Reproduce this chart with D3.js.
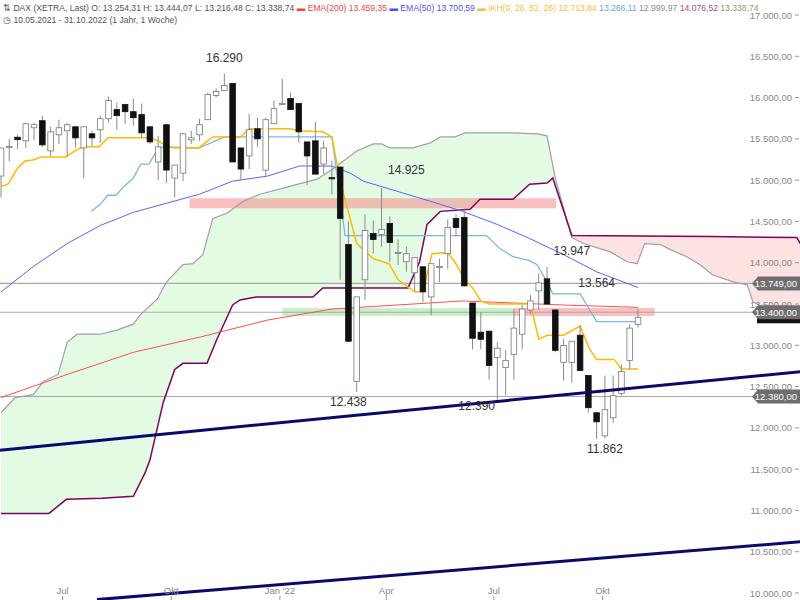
<!DOCTYPE html>
<html><head><meta charset="utf-8">
<script src="https://cdn.jsdelivr.net/npm/d3@7"></script>
<style>body{margin:0;background:#fff}svg{display:block;font-family:"Liberation Sans",Arial,sans-serif}</style>
</head><body><svg id="c" width="800" height="600"></svg>
<script>
// Weekly OHLC [open, high, low, close], first week 10.05.2021
const candles = [
[15050,15390,14790,15390],[15400,15500,15230,15410],[15520,15550,15380,15490],[15476,15695,15390,15683],
[15634,15695,15488,15671],[15720,15781,15403,15427],[15354,15646,15293,15585],[15549,15732,15439,15634],
[15598,15695,15293,15671],[15646,15646,15390,15512],[15390,15646,15025,15646],[15561,15598,15415,15512],
[15610,15781,15451,15744],[15744,16012,15695,15964],[15854,15939,15610,15781],[15915,15927,15683,15829],
[15829,15988,15659,15756],[15793,15927,15512,15573],[15646,15646,15439,15463],[15220,15537,15000,15403],
[15671,15683,14964,15122],[15025,15183,14793,15183],[15085,15573,14988,15561],[15488,15598,15439,15512],
[15549,15744,15476,15671],[15732,16061,15732,16037],[16025,16110,16000,16073],[16085,16290,16085,16146],
[16171,16171,15220,15220],[15390,15390,15000,15134],[15293,15805,15134,15610],[15622,15756,15403,15500],
[15122,15756,15049,15732],[15683,15964,15683,15866],[15927,16230,15927,15930],[15988,16061,15854,15854],
[15927,15927,15451,15585],[15463,15463,14939,15293],[15476,15707,15073,15073],[15195,15476,15073,15390],
[15030,15232,14829,15025],[15159,15159,13793,14537],[14220,14500,13037,13049],[12561,13586,12438,13586],
[13793,14585,13549,14390],[14354,14512,14110,14281],[14342,14903,14195,14403],[14476,14561,14012,14244],
[14122,14281,13976,14125],[14012,14195,13890,14110],[13878,14061,13647,14061],[13951,13951,13525,13647],
[13586,13988,13366,13988],[13951,14049,13768,13955],[14110,14524,13927,14427],[14537,14585,14317,14427],
[14549,14659,13708,13720],[13512,13512,12951,13085],[13159,13403,12951,13073],[13171,13171,12585,12756],
[12854,13037,12342,12964],[12732,12939,12390,12817],[12890,13439,12585,13208],[13134,13488,12951,13439],
[13427,13610,13378,13537],[13659,13866,13427,13756],[13805,13947,13500,13500],[13427,13439,12915,12939],
[12793,13073,12573,12998],[12793,13049,12549,13049],[13122,13244,12695,12695],[12634,12634,12183,12244],
[12183,12183,11862,12073],[11903,12634,11870,12220],[12122,12634,12061,12390],[12415,12768,12390,12683],
[12817,13256,12707,13208],[13254,13444,13216,13339]
];
// indicator lines: [week index, value]
const tenkan = [[0,14927],[0.85,14951],[1.93,15134],[2.9,15232],[3.87,15244],[4.83,15281],[7.86,15281],[8.94,15354],[9.91,15403],[11.85,15403],[12.93,15512],[17.9,15512],[19,15476],[19.9,15415],[20.9,15390],[23.9,15390],[25.6,15524],[29,15524],[30,15622],[34.9,15622],[36,15598],[38.9,15585],[40,15524],[41,14988],[43,14232],[45,14049],[46.9,13988],[48,13793],[50,13647],[51,13647],[52.1,14110],[54,14122],[55,13988],[56,13805],[57,13695],[58,13537],[59,13500],[64,13500],[65,13073],[66,13122],[68,13122],[70,13232],[71.1,12963],[72,12829],[74.1,12829],[75,12714],[77,12714]];
const kijun = [[10.9,14622],[12,14707],[12.9,14817],[13.9,14817],[14.9,14927],[16,15025],[16.9,15195],[17.9,15195],[19,15390],[19.9,15403],[24,15390],[27,15524],[40,15524],[41.6,14329],[58.7,14329],[60.3,14171],[61.9,14073],[63.9,14025],[64.8,13976],[66,13768],[66.7,13622],[70,13622],[72,13286],[77,13286]];
const ema50 = [[0,13646],[3.87,13951],[8,14232],[12,14451],[16,14610],[20,14720],[24,14830],[28,14988],[32.2,15049],[36.1,15171],[40,15171],[42.2,15085],[43.8,14988],[51.9,14744],[55.8,14622],[60,14463],[63.9,14293],[68,14098],[72,13890],[77,13700]];
const ema200 = [[0,12366],[8,12647],[16,12915],[24,13098],[32.2,13305],[40,13439],[55.8,13537],[68,13488],[77,13459]];
const senkouA = [[0,12183],[1.7,12366],[3.9,12403],[5.1,12561],[6.9,12647],[8,13037],[9.2,13134],[12,13134],[14,13183],[16,13256],[16.8,13366],[18.9,13561],[20,13768],[22,13976],[23.2,13988],[24.4,14098],[25.6,14537],[27.3,14598],[29.3,14744],[31.3,14829],[34.1,14903],[38.2,15012],[40.1,15134],[43,15354],[45,15439],[46,15439],[47,15390],[49.8,15390],[51.9,15451],[53.1,15524],[54.9,15524],[56.1,15573],[61.9,15573],[64.9,15561],[66,15537],[67,15025],[69,14305],[70.4,14232],[72.4,14171],[73.6,14134],[75.7,14012],[76.9,13988],[77.8,14232],[79.7,14220],[80.9,14159],[82.9,14073],[84.5,13976],[86,13854],[88.5,13768],[90.2,13732],[90.9,13525],[92.6,13439],[96.6,13427],[100,13400]];
const senkouB = [[0,10964],[5.8,10964],[7.9,11134],[12.2,11147],[16,11171],[17.4,11451],[18,11610],[19.6,12305],[21,12707],[22,12781],[24.9,12781],[26.1,13073],[28,13488],[28.9,13549],[30.9,13585],[37.7,13585],[38.9,13695],[49.2,13695],[50.6,14012],[51.5,14464],[53.1,14622],[56.7,14647],[57.9,14768],[61.9,14768],[63.9,14951],[66,14964],[66.7,15025],[69,14329],[85.7,14317],[96.2,14305],[97.2,14134],[100,14000]];
const levels = [13749, 13400, 12380];
const levelLabels = ["13.749,00","13.400,00","12.380,00"];
// zones: [startIdx, endIdx, low, high, kind]
const zones = [[22.8,67.1,14659,14781,"red"],[34,62,13354,13451,"green"],[62,79,13354,13451,"red"]];
const trendLines = [[-0.12,11730,96.6,12680],[11.6,9920,96.6,10620]];
const annotations = [["16.290",27,16290,-1],["14.925",49,14925,-1],["13.947",69,13947,-1],["13.564",72,13564,-1],["12.438",42,12438,1],["12.390",57.5,12390,1],["11.862",73,11862,1]];
const yTicks = d3.range(10000, 17001, 500);
const monthTicks = [["Jul",new Date(2021,6,1)],["Okt",new Date(2021,9,1)],["Jan '22",new Date(2022,0,1)],["Apr",new Date(2022,3,1)],["Jul",new Date(2022,6,1)],["Okt",new Date(2022,9,1)]];

const svg = d3.select("#c");
const start = new Date(2021,4,10), end = new Date(2022,9,31);
const xt = d3.scaleTime().domain([start,end]).range([1,638]);
const xi = d3.scaleLinear().domain([0,77]).range([1,638]);
const y = d3.scaleLinear().domain([10000,17000]).range([593,15]);
const fmt = v => d3.format(",.2f")(v).replace(/,/g,"#").replace(".",",").replace(/#/g,".");

const g = svg.append("g");
svg.append("clipPath").attr("id","cl").append("rect").attr("width",800).attr("height",600);
g.attr("clip-path","url(#cl)");

function interp(arr){ return i => { for(let k=1;k<arr.length;k++){ if(i<=arr[k][0]){const a=arr[k-1],b=arr[k];return a[1]+(b[1]-a[1])*(i-a[0])/(b[0]-a[0]);} } return arr[arr.length-1][1]; }; }
const fa = interp(senkouA), fb = interp(senkouB);
const samp = d3.range(0,100.01,0.05);
g.append("path").datum(samp).attr("fill","#e2fbe2")
 .attr("d", d3.area().x(i=>xi(i)).y0(i=>y(fb(i))).y1(i=>y(Math.max(fa(i),fb(i)))));
g.append("path").datum(samp).attr("fill","#fde2e2")
 .attr("d", d3.area().x(i=>xi(i)).y0(i=>y(fa(i))).y1(i=>y(Math.max(fa(i),fb(i)))));

zones.forEach(z=>{
 g.append("rect").attr("x",xi(z[0])).attr("width",xi(z[1])-xi(z[0])).attr("y",y(z[3])).attr("height",y(z[2])-y(z[3]))
  .attr("fill", z[4]==="red" ? "rgba(245,130,130,0.5)" : "rgba(120,215,120,0.4)");
});

levels.forEach(l=> g.append("line").attr("x1",0).attr("x2",800).attr("y1",y(l)).attr("y2",y(l)).attr("stroke","#a8a8a8").attr("stroke-width",1.2));

const line = d3.line().x(d=>xi(d[0])).y(d=>y(d[1]));
g.append("path").datum(senkouA).attr("d",line).attr("fill","none").attr("stroke","#a0a0a8").attr("stroke-width",1.2);
g.append("path").datum(senkouB).attr("d",line).attr("fill","none").attr("stroke","#800060").attr("stroke-width",1.5);
g.append("path").datum(ema200).attr("d",line).attr("fill","none").attr("stroke","#ff5050").attr("stroke-width",1);
g.append("path").datum(ema50).attr("d",line).attr("fill","none").attr("stroke","#6060ff").attr("stroke-width",1);
g.append("path").datum(kijun).attr("d",line).attr("fill","none").attr("stroke","#7ab8dc").attr("stroke-width",1.3);
g.append("path").datum(tenkan).attr("d",line).attr("fill","none").attr("stroke","#ffbb00").attr("stroke-width",1.5);

const cg = g.append("g");
candles.forEach((c,i)=>{
 const x = xi(i), up = c[3]>=c[0];
 cg.append("line").attr("x1",x).attr("x2",x).attr("y1",y(c[1])).attr("y2",y(c[2])).attr("stroke","#8a8a8a").attr("stroke-width",1);
 const top = y(Math.max(c[0],c[3])), bot = y(Math.min(c[0],c[3]));
 cg.append("rect").attr("x",x-2.8).attr("width",5.6).attr("y",top).attr("height",Math.max(1.2,bot-top))
  .attr("fill", up ? "#fff" : "#111").attr("stroke", up ? "#777" : "#111").attr("stroke-width",0.8);
});

trendLines.forEach(t=> g.append("line").attr("x1",xi(t[0])).attr("y1",y(t[1])).attr("x2",xi(t[2])).attr("y2",y(t[3])).attr("stroke","#0a0a6e").attr("stroke-width",3));

annotations.forEach(a=>{
 const yy = a[3]<0 ? y(a[2])-12 : y(a[2])+14;
 svg.append("text").attr("x",xi(a[1])).attr("y",yy).attr("text-anchor","middle").attr("font-size",12).attr("fill","#333").text(a[0]);
});

yTicks.forEach(v=>{
 svg.append("text").attr("x",792).attr("y",y(v)+3.5).attr("text-anchor","end").attr("font-size",9.5).attr("fill","#888").text(fmt(v));
 svg.append("line").attr("x1",795).attr("x2",799).attr("y1",y(v)).attr("y2",y(v)).attr("stroke","#999");
});
svg.append("path").attr("d",`M757,${y(13339)-6}h43v12h-43z`).attr("fill","#111");
levels.forEach((l,k)=>{
 const yy=y(l);
 svg.append("path").attr("d",`M752,${yy} l6,-7 h42 v14 h-42 z`).attr("fill","#6e6e6e");
 svg.append("text").attr("x",797).attr("y",yy+3.5).attr("text-anchor","end").attr("font-size",9.5).attr("fill","#fff").text(levelLabels[k]);
});

monthTicks.forEach(m=>{
 const x=xt(m[1]);
 svg.append("text").attr("x",x).attr("y",594).attr("text-anchor","middle").attr("font-size",9.5).attr("fill","#888").text(m[0]);
 svg.append("line").attr("x1",x).attr("x2",x).attr("y1",596).attr("y2",600).attr("stroke","#999");
});

const h = svg.append("text").attr("x",3).attr("y",11).attr("font-size",8.6).attr("fill","#555");
[["⇅ DAX (XETRA, Last)  O: 13.254,31  H: 13.444,07  L: 13.216,48  C: 13.338,74  ","#555"],
 ["▬ EMA(200)  13.459,35  ","#ff4040"],["▬ EMA(50)  13.700,59  ","#5050ff"],
 ["▬ IKH(9, 26, 52, 26)  12.713,84  ","#ffbb33"],["13.286,11  ","#6aaad0"],["12.999,97  ","#8a8a9a"],
 ["14.076,52  ","#a05090"],["13.338,74","#8aa060"]].forEach(s=>h.append("tspan").attr("fill",s[1]).text(s[0]));
svg.append("text").attr("x",3).attr("y",23).attr("font-size",8.6).attr("fill","#555").text("◷ 10.05.2021 - 31.10.2022  (1 Jahr, 1 Woche)");
</script></body></html>
